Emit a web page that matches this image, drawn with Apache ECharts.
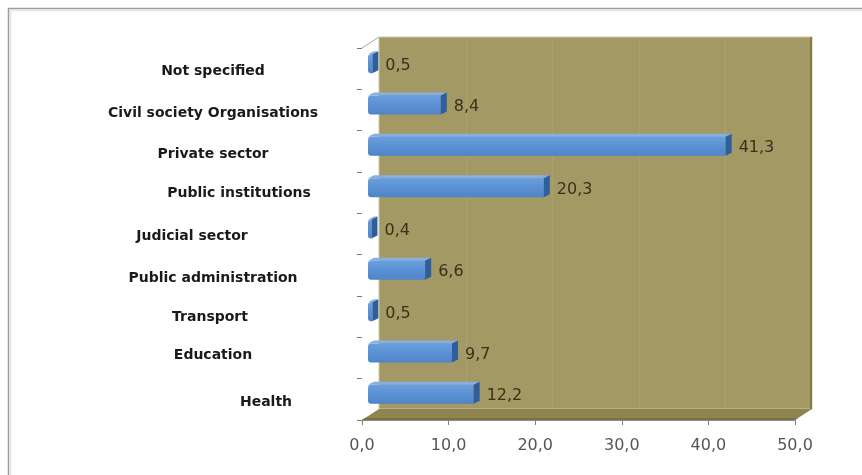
<!DOCTYPE html>
<html>
<head>
<meta charset="utf-8">
<script src="https://cdn.jsdelivr.net/npm/echarts@6/dist/echarts.min.js"></script>
<style>
  html, body { margin: 0; padding: 0; background: #ffffff; }
  #chart { width: 862px; height: 475px; }
</style>
</head>
<body>
<div id="chart"></div>
<script>
// Sector categories, listed bottom to top
const categories = [
  'Health',
  'Education',
  'Transport',
  'Public administration',
  'Judicial sector',
  'Public institutions',
  'Private sector',
  'Civil society Organisations',
  'Not specified'
];
// Share per sector (%)
const shares = [12.2, 9.7, 0.5, 6.6, 0.4, 20.3, 41.3, 8.4, 0.5];
// Value axis ticks
const axisMin = 0;
const axisMax = 50;
const axisStep = 10;

// 3D look: depth of the back wall and of the bars
const WALL_DX = 17, WALL_DY = -11;
const BAR_OX = 6, BAR_OY = -5;
const BAR_DX = 6, BAR_DY = -3;

const fmt = v => v.toFixed(1).replace('.', ',');

// Some category labels sit off-centre; shift them with rich-text padding
const labelShift = {
  'Public institutions': 'r1',
  'Judicial sector': 'l1',
  'Health': 'r2',
  'Transport': 'l2',
  'Education': 'u1'
};

function renderBox(params, api) {
  const cs = params.coordSys;
  const x = cs.x, y = cs.y, w = cs.width, h = cs.height;
  const children = [];
  // left side wall
  children.push({
    type: 'polygon',
    shape: { points: [[x, y], [x + WALL_DX, y + WALL_DY], [x + WALL_DX, y + h + WALL_DY], [x, y + h]] },
    style: { fill: '#ffffff' }
  });
  // back wall
  children.push({
    type: 'rect',
    shape: { x: x + WALL_DX, y: y + WALL_DY, width: w, height: h },
    style: { fill: '#a39964', stroke: '#cfc9a8', lineWidth: 1 }
  });
  // very faint gridlines on the back wall
  for (let v = axisMin + axisStep; v < axisMax; v += axisStep) {
    const px = Math.round(api.coord([v, 0])[0] + WALL_DX) + 0.5;
    children.push({
      type: 'line',
      shape: { x1: px, y1: y + WALL_DY, x2: px, y2: y + h + WALL_DY },
      style: { stroke: 'rgba(200,192,150,0.15)', lineWidth: 2 }
    });
  }
  // shaded right edge of the wall
  children.push({
    type: 'rect',
    shape: { x: x + w + WALL_DX - 2, y: y + WALL_DY, width: 2, height: h },
    style: { fill: '#857b4a' }
  });
  // floor
  children.push({
    type: 'polygon',
    shape: { points: [[x, y + h], [x + w, y + h], [x + w + WALL_DX, y + h + WALL_DY], [x + WALL_DX, y + h + WALL_DY]] },
    style: { fill: '#8e844f' }
  });
  children.push({
    type: 'polygon',
    shape: { points: [[x, y + h], [x + w, y + h], [x + w + 3, y + h - 2], [x + 3, y + h - 2]] },
    style: { fill: '#7b7142' }
  });
  // top edge of the side wall
  children.push({
    type: 'line',
    shape: { x1: x, y1: y, x2: x + WALL_DX, y2: y + WALL_DY },
    style: { stroke: '#a6a6a6', lineWidth: 1 }
  });
  return { type: 'group', children };
}

function renderBar(params, api) {
  const idx = api.value(0);
  const v = api.value(1);
  const p0 = api.coord([0, idx]);
  const p1 = api.coord([v, idx]);
  const band = api.size([0, 1])[1];
  const h = band * 0.46;
  const x0 = p0[0] + BAR_OX;
  const x1 = p1[0] + BAR_OX;
  const yc = p0[1] + BAR_OY;
  const top = yc - h / 2, bot = yc + h / 2;
  return {
    type: 'group',
    children: [
      { // top face
        type: 'polygon',
        shape: { points: [[x0, top], [x1, top], [x1 + BAR_DX, top + BAR_DY], [x0 + BAR_DX, top + BAR_DY]] },
        style: { fill: '#86afe0' }
      },
      { // front face
        type: 'rect',
        shape: { x: x0, y: top, width: Math.max(x1 - x0, 0.5), height: h, r: [3, 0, 0, 3] },
        style: {
          fill: {
            type: 'linear', x: 0, y: 0, x2: 0, y2: 1,
            colorStops: [
              { offset: 0, color: '#6b9fde' },
              { offset: 0.5, color: '#5a90d4' },
              { offset: 1, color: '#4f84c8' }
            ]
          }
        }
      },
      { // end face
        type: 'polygon',
        shape: { points: [[x1, top], [x1 + BAR_DX, top + BAR_DY], [x1 + BAR_DX, bot + BAR_DY], [x1, bot]] },
        style: { fill: '#2f5e9b' }
      },
      { // value label
        type: 'text',
        style: {
          text: fmt(v),
          x: x1 + 13,
          y: yc + 2,
          align: 'left',
          verticalAlign: 'middle',
          fill: '#38311a',
          font: '16px "DejaVu Sans"'
        }
      }
    ]
  };
}

const chart = echarts.init(document.getElementById('chart'), null, { renderer: 'canvas' });

const labelBase = { fontSize: 14, fontWeight: 'bold', fontFamily: 'DejaVu Sans', color: '#1a1a1a' };

chart.setOption({
  backgroundColor: '#ffffff',
  animation: false,
  graphic: [
    {
      type: 'rect',
      shape: { x: 8.5, y: 8.5, width: 900, height: 500 },
      style: { fill: 'none', stroke: '#9c9c9c', lineWidth: 1.5 },
      z: 100
    },
    {
      type: 'rect',
      shape: { x: 10.5, y: 10.5, width: 900, height: 500 },
      style: { fill: 'none', stroke: '#e4e4e4', lineWidth: 1.5 },
      z: 100
    }
  ],
  grid: {
    left: 362,
    right: 67,
    top: 48,
    bottom: 55,
    containLabel: false,
    outerBoundsMode: 'none'
  },
  xAxis: {
    type: 'value',
    min: axisMin,
    max: axisMax,
    interval: axisStep,
    axisLine: { show: true, lineStyle: { color: '#8c8c8c', width: 1 } },
    axisTick: { show: true, length: 5, lineStyle: { color: '#7f7f7f' } },
    splitLine: { show: false },
    axisLabel: {
      margin: 18,
      formatter: v => fmt(v),
      color: '#555555',
      fontSize: 16,
      fontFamily: 'DejaVu Sans'
    }
  },
  yAxis: {
    type: 'category',
    data: categories,
    axisLine: { show: true, lineStyle: { color: '#9a9a9a', width: 1 } },
    axisTick: { show: true, length: 5, lineStyle: { color: '#777777' } },
    splitLine: { show: false },
    axisLabel: {
      margin: 149,
      align: 'center',
      color: '#1a1a1a',
      fontSize: 14,
      fontWeight: 'bold',
      fontFamily: 'DejaVu Sans',
      formatter: name => '{' + (labelShift[name] || 'c') + '|' + name + '}',
      rich: {
        c: Object.assign({}, labelBase, { padding: [6, 0, 0, 0] }),
        r1: Object.assign({}, labelBase, { padding: [2, 0, 0, 52] }),
        r2: Object.assign({}, labelBase, { padding: [6, 0, 0, 106] }),
        l1: Object.assign({}, labelBase, { padding: [4, 42, 0, 0] }),
        l2: Object.assign({}, labelBase, { padding: [2, 6, 0, 0] }),
        u1: Object.assign({}, labelBase, { padding: [0, 0, 6, 0] })
      }
    }
  },
  series: [
    {
      type: 'custom',
      name: 'box',
      renderItem: renderBox,
      data: [[0, 0]],
      encode: { x: 1, y: 0 },
      silent: true,
      z: 1
    },
    {
      type: 'custom',
      name: 'Share',
      renderItem: renderBar,
      data: shares.map((v, i) => [i, v]),
      encode: { x: 1, y: 0 },
      z: 3
    }
  ]
});
</script>
</body>
</html>
